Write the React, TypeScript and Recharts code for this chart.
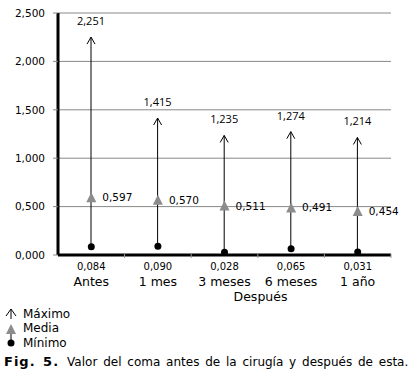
import React from "react"
import { ComposedChart, Bar, Scatter, XAxis, YAxis, CartesianGrid, Label } from "recharts"

const periods = ["Antes", "1 mes", "3 meses", "6 meses", "1 año"]
const maxVals = [2.251, 1.415, 1.235, 1.274, 1.214]
const meanVals = [0.597, 0.57, 0.511, 0.491, 0.454]
const minVals = [0.084, 0.09, 0.028, 0.065, 0.031]
const yTicks = [0, 0.5, 1, 1.5, 2, 2.5]

const data = periods.map((p, i) => ({
  period: p,
  range: [minVals[i], maxVals[i]],
  max: maxVals[i],
  mean: meanVals[i],
  min: minVals[i],
}))

const fmt = (v: number) => v.toFixed(3).replace(".", ",")
const VERDANA = "'DejaVu Sans', Verdana, sans-serif"
const CALIBRI = "'Open Sans', 'Liberation Sans', sans-serif"

function RangeArrow(props: any) {
  const { x, y, width, height, payload } = props
  const cx = x + width / 2
  return (
    <g>
      <line x1={cx} y1={y} x2={cx} y2={y + height} stroke="#000" strokeWidth={1} />
      <polyline points={`${cx - 4},${y + 7} ${cx},${y} ${cx + 4},${y + 7}`} fill="none" stroke="#000" strokeWidth={1} />
      <text x={cx} y={y - 12} textAnchor="middle" fontFamily={CALIBRI} fontSize={11} fill="#000">
        {fmt(payload.max)}
      </text>
    </g>
  )
}

function MeanMark(props: any) {
  const { cx, cy, payload } = props
  return (
    <g>
      <polygon points={`${cx - 5},${cy + 5} ${cx + 5},${cy + 5} ${cx},${cy - 5}`} fill="#8c8c8c" />
      <text x={cx + 11} y={cy + 4} fontFamily={VERDANA} fontSize={10.5} fill="#000">
        {fmt(payload.mean)}
      </text>
    </g>
  )
}

function MinMark(props: any) {
  const { cx, cy } = props
  return <circle cx={cx} cy={cy} r={3.5} fill="#000" />
}

function PeriodTick(props: any) {
  const { x, y, payload, index } = props
  return (
    <g>
      <line x1={x + 33.3} y1={y - 1} x2={x + 33.3} y2={y + 3} stroke="#999" />
      <text x={x} y={y + 14.5} textAnchor="middle" fontFamily={VERDANA} fontSize={10} fill="#000">
        {fmt(minVals[index])}
      </text>
      <text x={x} y={y + 30.5} textAnchor="middle" fontFamily={VERDANA} fontSize={12.5} fill="#000">
        {payload.value}
      </text>
    </g>
  )
}

export default function App() {
  return (
    <div style={{ position: "absolute", left: 0, top: 0, width: 420, height: 379, background: "#fff" }}>
      <ComposedChart width={420} height={310} data={data} margin={{ top: 13, right: 29, bottom: 15, left: 0 }}>
        <CartesianGrid vertical={false} stroke="#888" />
        <XAxis
          dataKey="period"
          height={40}
          tickLine={false}
          tickSize={0}
          tickMargin={0}
          axisLine={{ stroke: "#000", strokeWidth: 3 }}
          tick={<PeriodTick />}
          interval={0}
        >
          <Label value="Después" position="insideBottom" offset={-6} dx={36} fontFamily={VERDANA} fontSize={12.5} fill="#000" />
        </XAxis>
        <YAxis
          width={58}
          domain={[0, 2.5]}
          ticks={yTicks}
          tickFormatter={fmt}
          tickSize={5}
          tickMargin={8}
          tickLine={{ stroke: "#888" }}
          axisLine={{ stroke: "#000", strokeWidth: 3 }}
          tick={{ fontFamily: VERDANA, fontSize: 10.5, fill: "#000" }}
        />
        <Bar dataKey="range" barSize={10} shape={<RangeArrow />} isAnimationActive={false} />
        <Scatter dataKey="min" shape={<MinMark />} isAnimationActive={false} />
        <Scatter dataKey="mean" shape={<MeanMark />} isAnimationActive={false} />
      </ComposedChart>
      <svg width={30} height={52} style={{ position: "absolute", left: 0, top: 304 }}>
        <polyline points="6,12 11,5 16,12" fill="none" stroke="#000" />
        <line x1={11} y1={5} x2={11} y2={15} stroke="#000" />
        <polygon points="6,30 16,30 11,20" fill="#8c8c8c" />
        <line x1={11} y1={30} x2={11} y2={39} stroke="#000" />
        <circle cx={11} cy={39} r={3.5} fill="#000" />
      </svg>
      <div style={{ position: "absolute", left: 23, top: 306.5, fontFamily: VERDANA, fontSize: 12, lineHeight: "14.5px", color: "#000" }}>
        <div>Máximo</div>
        <div>Media</div>
        <div>Mínimo</div>
      </div>
      <div style={{ position: "absolute", left: 4, top: 354, width: 414, fontFamily: VERDANA, fontSize: 12, lineHeight: "15px", color: "#000", whiteSpace: "nowrap", wordSpacing: 2 }}>
        <b style={{ fontSize: 13, letterSpacing: 1 }}>Fig. 5.</b>
        <span style={{ marginLeft: 8 }}>Valor del coma antes de la cirugía y después de esta.</span>
      </div>
    </div>
  )
}
